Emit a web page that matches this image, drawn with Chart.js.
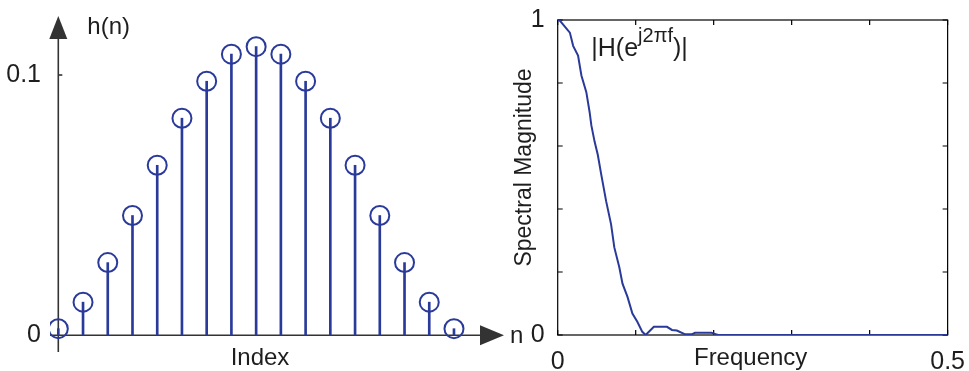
<!DOCTYPE html>
<html><head><meta charset="utf-8">
<script src="https://cdn.jsdelivr.net/npm/chart.js@4.4.1/dist/chart.umd.min.js"></script>
<style>
html,body{margin:0;padding:0;background:#fff;}
#wrap{position:relative;width:969px;height:371px;overflow:hidden;background:#fff;}
#c1{position:absolute;left:0;top:0;}
#c2{position:absolute;left:500px;top:0;}
</style></head><body>
<div id="wrap">
<canvas id="c1" width="530" height="371"></canvas>
<canvas id="c2" width="469" height="371"></canvas>
</div>
<script>
// ---------- data: impulse response h(n) ----------
const stemIndex  = [0,1,2,3,4,5,6,7,8,9,10,11,12,13,14,15,16];
const stemValues = [0.0025,0.0127,0.0279,0.046,0.0653,0.0834,0.0976,0.108,0.1109,0.108,0.0976,0.0834,0.0653,0.046,0.0279,0.0127,0.0025];
const stemTickValues = [0, 0.1];
const stemYName = 'h(n)';
const stemXName = 'n';
const stemXTitle = 'Index';

// ---------- data: spectral magnitude ----------
const freq = [0,0.003,0.0156,0.0198,0.0261,0.0304,0.0367,0.0409,0.0431,0.0473,0.0514,0.0558,0.0621,0.0684,0.0726,0.079,0.0831,0.0895,0.0958,0.1021,0.1085,0.1128,0.1233,0.1401,0.1465,0.1528,0.1635,0.1718,0.1761,0.1972,0.2035,0.206,0.5];
const magnitude = [1.0,0.997,0.96,0.918,0.887,0.824,0.771,0.708,0.666,0.614,0.572,0.51,0.425,0.352,0.278,0.215,0.163,0.121,0.068,0.042,0.01,0.0,0.026,0.026,0.016,0.014,0.002,0.002,0.007,0.007,0.002,0,0];
const freqTickLabels = [0, 0.5];
const magTickLabels = [0, 1];
const specXTitle = 'Frequency';
const specYTitle = 'Spectral Magnitude';
const specNote = ['|H(e', 'j2\u03c0f', ')|'];

const BLUE = '#2a3a9a';
const AXIS = '#333333';
const TXT = '#1e1e1e';
const FONT = "'Liberation Sans', Arial, Helvetica, sans-serif";
Chart.defaults.font.family = FONT;
Chart.defaults.color = TXT;

// ---------- left chart ----------
const stemAxes = {
  id: 'stemAxes',
  beforeDatasetsDraw(chart) {
    const {ctx, chartArea: a, scales: {x, y}} = chart;
    const x0 = x.getPixelForValue(0), y0 = y.getPixelForValue(0);
    ctx.save();
    ctx.strokeStyle = AXIS; ctx.fillStyle = AXIS; ctx.lineWidth = 1.6;
    ctx.beginPath(); ctx.moveTo(x0, a.bottom); ctx.lineTo(x0, a.top + 20); ctx.stroke();
    ctx.beginPath(); ctx.moveTo(x0, a.top); ctx.lineTo(x0 - 9, a.top + 23); ctx.lineTo(x0 + 9, a.top + 23); ctx.closePath(); ctx.fill();
    ctx.beginPath(); ctx.moveTo(a.left, y0); ctx.lineTo(a.right + 2, y0); ctx.stroke();
    ctx.beginPath(); ctx.moveTo(a.right + 24, y0); ctx.lineTo(a.right, y0 - 10); ctx.lineTo(a.right, y0 + 10); ctx.closePath(); ctx.fill();
    stemTickValues.forEach(v => {
      if (v === 0) return;
      const p = y.getPixelForValue(v);
      ctx.beginPath(); ctx.moveTo(x0, p); ctx.lineTo(x0 + 4, p); ctx.stroke();
    });
    ctx.fillStyle = TXT;
    ctx.font = '24px ' + FONT;
    ctx.textBaseline = 'alphabetic';
    ctx.textAlign = 'left';
    ctx.fillText(stemYName, x0 + 29, a.top + 18);
    ctx.fillText(stemXName, a.right + 30, y0 + 8);
    ctx.textAlign = 'center';
    ctx.fillText(stemXTitle, (a.left + a.right) / 2 - 5, a.bottom + 13);
    ctx.restore();
  }
};

new Chart(document.getElementById('c1'), {
  type: 'bar',
  data: {
    datasets: [
      { type: 'scatter', data: stemIndex.map((n, i) => ({x: n, y: stemValues[i]})),
        pointRadius: 9.5, pointHoverRadius: 9.5, pointBorderWidth: 2, borderColor: BLUE,
        pointBackgroundColor: 'rgba(0,0,0,0)', backgroundColor: 'rgba(0,0,0,0)', showLine: false },
      { type: 'bar', data: stemIndex.map((n, i) => ({x: n, y: stemValues[i]})),
        backgroundColor: BLUE, borderWidth: 0, barThickness: 2 }
    ]
  },
  options: {
    responsive: false, animation: false,
    layout: { padding: { top: 12, bottom: 19, right: 50, left: 0 } },
    plugins: { legend: { display: false }, tooltip: { enabled: false } },
    scales: {
      x: { type: 'linear', min: -0.3356, max: 17.052, offset: false, display: false },
      y: { type: 'linear', min: -0.006457, max: 0.12268,
           afterBuildTicks(s) { s.ticks = stemTickValues.map(v => ({value: v})); },
           ticks: { padding: 1, font: { size: 25 }, color: TXT, callback: v => String(v) },
           grid: { display: false }, border: { display: false },
           afterFit(s) { s.width = 50; } }
    }
  },
  plugins: [stemAxes]
});

// ---------- right chart ----------
const specFrame = {
  id: 'specFrame',
  beforeDatasetsDraw(chart) {
    const {ctx, chartArea: a, scales: {x, y}} = chart;
    ctx.save();
    ctx.strokeStyle = '#000'; ctx.lineWidth = 1.2;
    ctx.strokeRect(a.left, a.top, a.right - a.left, a.bottom - a.top);
    ctx.beginPath();
    x.ticks.forEach(t => {
      const p = x.getPixelForValue(t.value);
      ctx.moveTo(p, a.bottom); ctx.lineTo(p, a.bottom - 5);
      ctx.moveTo(p, a.top); ctx.lineTo(p, a.top + 5);
    });
    y.ticks.forEach(t => {
      const p = y.getPixelForValue(t.value);
      ctx.moveTo(a.left, p); ctx.lineTo(a.left + 5, p);
      ctx.moveTo(a.right, p); ctx.lineTo(a.right - 5, p);
    });
    ctx.stroke();
    ctx.restore();
  },
  afterDraw(chart) {
    const {ctx, chartArea: a, scales: {x, y}} = chart;
    ctx.save();
    ctx.fillStyle = TXT;
    ctx.font = '24px ' + FONT;
    ctx.textBaseline = 'alphabetic';
    ctx.textAlign = 'center';
    ctx.fillText(specXTitle, (a.left + a.right) / 2 - 2, a.bottom + 30);
    ctx.save();
    ctx.translate(24.5, (a.top + a.bottom) / 2 - 10);
    ctx.rotate(-Math.PI / 2);
    ctx.textBaseline = 'middle';
    ctx.font = '23px ' + FONT;
    ctx.fillText(specYTitle, 0, 0);
    ctx.restore();
    // annotation
    let px = x.getPixelForValue(0.0431);
    const base = y.getPixelForValue(0.885);
    ctx.textAlign = 'left';
    ctx.font = '25px ' + FONT;
    ctx.fillText(specNote[0], px, base);
    px += ctx.measureText(specNote[0]).width;
    ctx.font = '20px ' + FONT;
    ctx.fillText(specNote[1], px, base - 14);
    px += ctx.measureText(specNote[1]).width;
    ctx.font = '25px ' + FONT;
    ctx.fillText(specNote[2], px, base);
    ctx.restore();
  }
};

const lbl = list => v => { const r = Math.round(v * 100) / 100; return list.includes(r) ? String(r) : ''; };

new Chart(document.getElementById('c2'), {
  type: 'line',
  data: {
    datasets: [{
      data: freq.map((f, i) => ({x: f, y: magnitude[i]})),
      borderColor: BLUE, borderWidth: 2, pointRadius: 0, tension: 0, fill: false
    }]
  },
  options: {
    responsive: false, animation: false,
    layout: { padding: { top: 17.3, right: 16.7, left: 0, bottom: 0 } },
    plugins: { legend: { display: false }, tooltip: { enabled: false } },
    scales: {
      x: { type: 'linear', min: 0, max: 0.5,
           ticks: { stepSize: 0.1, padding: 4, maxRotation: 0, autoSkip: false, font: { size: 25 }, color: TXT, callback: lbl(freqTickLabels) },
           grid: { display: false }, border: { display: false },
           afterFit(s) { s.height = 36; } },
      y: { type: 'linear', min: 0, max: 1,
           ticks: { stepSize: 0.2, padding: 5, autoSkip: false, font: { size: 25 }, color: TXT, callback: lbl(magTickLabels) },
           grid: { display: false }, border: { display: false },
           afterFit(s) { s.width = 57.7; } }
    }
  },
  plugins: [specFrame]
});
</script>
</body></html>
